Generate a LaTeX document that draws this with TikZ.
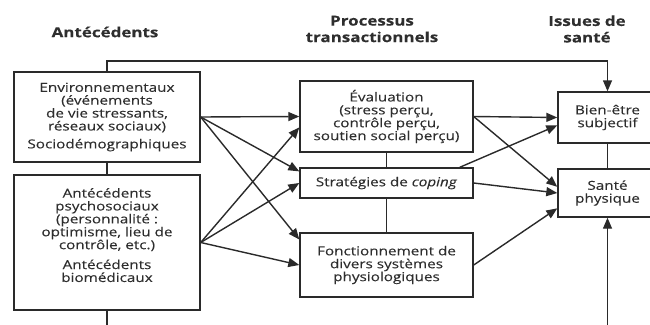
\documentclass[tikz,border=0pt]{standalone}
\usepackage{fontspec}
\setmainfont{Open Sans}[FakeStretch=1.23,FakeBold=0.2]
\usepackage{tikz}
\usetikzlibrary{arrows.meta,calc,positioning}

\tikzset{
  box/.style={draw=LineGray, line width=1.4pt, align=center, inner sep=2pt,
              font=\fontsize{12.4}{12.9}\selectfont, text=TextGray},
  hdr/.style={align=center, font=\fontsize{13.8}{16.5}\selectfont\bfseries, text=TextGray},
  link/.style={->, line width=1.4pt, LineGray},
}

\begin{document}
\begin{tikzpicture}[x=1pt,y=-1pt,>={Triangle[length=11pt,width=9pt]}]
            %--- Theme colors ---
            \definecolor{LineGray}{HTML}{2A2A2A}      % boxes and arrows
            \definecolor{TextGray}{HTML}{2E2E2E}      % all text

            %--- Canvas ---
            \useasboundingbox (0,0) rectangle (650,324);
            \clip (0,0) rectangle (650,324);

            %--- Column titles ---
            \node[hdr] (tAnte)  at (105,32)  {Antécédents};
            \node[hdr] (tProc)  at (372,29)  {Processus\\transactionnels};
            \node[hdr] (tIssue) at (587,29)  {Issues de\\santé};

            %--- Antecedents ---
            \node[box, minimum width=186pt, minimum height=90pt] (env) at (107,117)
              {Environnementaux\\(événements\\de vie stressants,\\réseaux sociaux)\\[5pt]Sociodémographiques};
            \node[box, minimum width=186pt, minimum height=135pt, text depth=15pt] (ant) at (107,242.5)
              {Antécédents\\psychosociaux\\(personnalité :\\optimisme, lieu de\\contrôle, etc.)\\[7pt]Antécédents\\biomédicaux};

            %--- Transactional processes ---
            \node[box, minimum width=173pt, minimum height=71pt] (eval) at (386.5,116.5)
              {Évaluation\\(stress perçu,\\contrôle perçu,\\soutien social perçu)};
            \node[box, minimum width=173pt, minimum height=30pt] (coping) at (386.5,183)
              {Stratégies de \textit{coping}};
            \node[box, minimum width=173pt, minimum height=64pt] (fonct) at (386.5,265)
              {Fonctionnement de\\divers systèmes\\physiologiques};

            %--- Health outcomes ---
            \node[box, minimum width=99pt, minimum height=51pt] (bien) at (607.5,117.5)
              {Bien-être\\subjectif};
            \node[box, minimum width=99pt, minimum height=48pt] (sante) at (607.5,193)
              {Santé\\physique};

            %--- Plain links between stacked boxes ---
            \draw[line width=1.4pt, LineGray] (env) -- (ant);
            \draw[line width=1.4pt, LineGray] (eval) -- (coping);
            \draw[line width=1.4pt, LineGray] (coping) -- (fonct);
            \draw[line width=1.4pt, LineGray] (bien) -- (sante);

            %--- Direct paths around the diagram ---
            \coordinate (top) at (350,61);
            \coordinate (bot) at (350,332);
            \draw[link] (env.north) |- (top) -| (bien.north);
            \draw[link] (ant.south) |- (bot) -| (sante.south);

            %--- Antecedents -> processes ---
            \draw[link] (env.east) -- (eval.west);
            \draw[link] (env.east) -- ($(coping.north west)!0.13!(coping.south west)$);
            \draw[link] (env.east) -- ($(fonct.north west)!0.11!(fonct.south west)$);
            \draw[link] (ant.east) -- ($(eval.north west)!0.65!(eval.south west)$);
            \draw[link] (ant.east) -- (coping.west);
            \draw[link] (ant.east) -- (fonct.west);

            %--- Processes -> outcomes ---
            \draw[link] (eval.east) -- (bien.west);
            \draw[link] (eval.east) -- ($(sante.north west)!0.375!(sante.south west)$);
            \draw[link] ($(coping.north west)!0.92!(coping.north east)$) -- ($(bien.north west)!0.65!(bien.south west)$);
            \draw[link] (coping.east) -- (sante.west);
            \draw[link] (fonct.east) -- ($(sante.north west)!0.81!(sante.south west)$);
          \end{tikzpicture}
\end{document}
